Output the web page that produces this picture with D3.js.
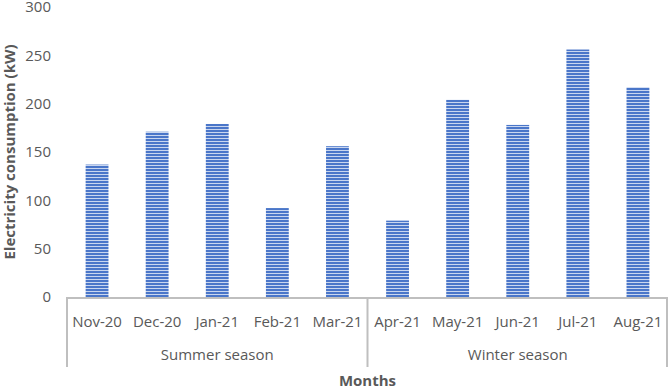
<!DOCTYPE html>
<html>
<head>
<meta charset="utf-8">
<script src="https://cdn.jsdelivr.net/npm/d3@7"></script>
<style>
  body { margin: 0; background: #fff; }
  text { font-family: "Open Sans", "Liberation Sans", sans-serif; fill: #595959; }
</style>
</head>
<body>
<div id="chart"></div>
<script>
// Data.
const months = ['Nov-20', 'Dec-20', 'Jan-21', 'Feb-21', 'Mar-21', 'Apr-21', 'May-21', 'Jun-21', 'Jul-21', 'Aug-21'];
const consumption = [137, 171, 179, 92, 156, 79, 204, 178, 256, 217];
const seasons = ['Summer season', 'Winter season'];
const seasonOf = [0, 0, 0, 0, 0, 1, 1, 1, 1, 1];
const yTicks = [0, 50, 100, 150, 200, 250, 300];

const W = 671, H = 388;
const margin = { top: 7, right: 3, bottom: 91, left: 67 },
    width = W - margin.left - margin.right,
    height = H - margin.top - margin.bottom;

const svg = d3.select('#chart')
    .append('svg')
        .attr('width', W)
        .attr('height', H);

// Striped fill for bars.
const defs = svg.append('defs');
const pat = defs.append('pattern')
    .attr('id', 'stripes')
    .attr('patternUnits', 'userSpaceOnUse')
    .attr('width', 10)
    .attr('height', 3);
pat.append('rect').attr('width', 10).attr('height', 3).attr('fill', '#4a76c9');
pat.append('rect').attr('y', 2).attr('width', 10).attr('height', 1).attr('fill', '#c9d6ef');

const g = svg.append('g')
    .attr('transform', `translate(${margin.left},${margin.top})`);

// Scales.
const x = d3.scaleBand().domain(months).range([0, width]).paddingInner(0.62).paddingOuter(0.31);
const y = d3.scaleLinear().domain([0, 300]).range([height, 0]);

// Y axis labels (no line).
const yAxis = g.append('g')
    .call(d3.axisLeft(y).tickValues(yTicks).tickSize(0).tickPadding(16));
yAxis.select('.domain').remove();
yAxis.selectAll('text').style('font-size', '15px').attr('fill', '#595959');

// Bars.
g.append('g')
    .selectAll('rect')
    .data(consumption)
    .join('rect')
        .attr('x', (d, i) => x(months[i]))
        .attr('y', d => y(d))
        .attr('width', x.bandwidth())
        .attr('height', d => y(0) - y(d))
        .attr('fill', 'url(#stripes)');

// Baseline + group brackets.
const lineColor = '#bfbfbf';
g.append('line')
    .attr('x1', 0).attr('x2', width)
    .attr('y1', height + 1).attr('y2', height + 1)
    .attr('stroke', lineColor).attr('stroke-width', 2);

const step = x.step();
const boundaries = [0, 5, 10].map(i => i * step);
g.selectAll('.sep')
    .data(boundaries)
    .join('line')
        .attr('class', 'sep')
        .attr('x1', d => Math.min(d, width - 1)).attr('x2', d => Math.min(d, width - 1))
        .attr('y1', height).attr('y2', height + 70)
        .attr('stroke', lineColor).attr('stroke-width', 2);

// Category labels.
g.append('g')
    .selectAll('text')
    .data(months)
    .join('text')
        .attr('x', d => x(d) + x.bandwidth() / 2)
        .attr('y', height + 30)
        .attr('text-anchor', 'middle')
        .style('font-size', '15px')
        .text(d => d);

// Season labels.
g.append('g')
    .selectAll('text')
    .data(seasons)
    .join('text')
        .attr('x', (d, i) => (i * 5 + 2.5) * step)
        .attr('y', height + 63)
        .attr('text-anchor', 'middle')
        .style('font-size', '15px')
        .text(d => d);

// Axis titles.
svg.append('text')
    .attr('x', margin.left + width / 2)
    .attr('y', H - 2)
    .attr('text-anchor', 'middle')
    .style('font-size', '15px')
    .style('font-weight', 'bold')
    .text('Months');

svg.append('text')
    .attr('transform', `translate(15,${margin.top + height / 2}) rotate(-90)`)
    .attr('text-anchor', 'middle')
    .style('font-size', '15px')
    .style('font-weight', 'bold')
    .text('Electricity consumption (kW)');
</script>
</body>
</html>
